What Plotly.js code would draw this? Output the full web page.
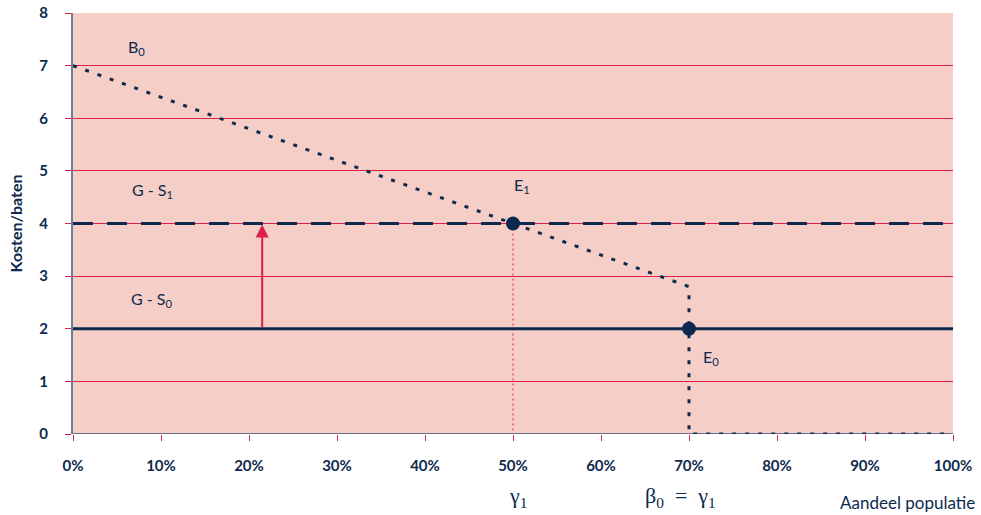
<!DOCTYPE html>
<html><head><meta charset="utf-8">
<script src="https://cdn.plot.ly/plotly-3.0.1.min.js"></script>
<style>body{margin:0;background:#fff}</style>
</head><body><div id="c" style="width:981px;height:515px"></div>
<script>
// Data
const benefitX = [0, 0.7, 0.7, 1.0];
const benefitY = [7, 2.8, 0, 0];
const gs1X = [0, 1.0];
const gs1Y = [4, 4];
const gs0X = [0, 1.0];
const gs0Y = [2, 2];
const equilibriaX = [0.5, 0.7];
const equilibriaY = [4, 2];
const gammaGuideX = [0.5, 0.5];
const gammaGuideY = [4, 0];
const arrowX = 0.215;
const arrowFrom = 2, arrowTo = 4;
const xTicks = [0,0.1,0.2,0.3,0.4,0.5,0.6,0.7,0.8,0.9,1.0];
const xTickText = ['0%','10%','20%','30%','40%','50%','60%','70%','80%','90%','100%'];
const yTicks = [0,1,2,3,4,5,6,7,8];

const navy = '#0d2a4e';
const red = '#dc1f4b';

const traces = [
  {x: gammaGuideX, y: gammaGuideY, mode:'lines', line:{color:red, width:1, dash:'2px,3px'}, hoverinfo:'skip'},
  {x: gs0X, y: gs0Y, mode:'lines', line:{color:navy, width:3}, hoverinfo:'skip'},
  {x: gs1X, y: gs1Y, mode:'lines', line:{color:navy, width:3, dash:'20px,14px'}, hoverinfo:'skip'},
  {x: benefitX, y: benefitY, mode:'lines', line:{color:navy, width:3, dash:'4px,9px'}, hoverinfo:'skip'},
  {x: equilibriaX, y: equilibriaY, mode:'markers', marker:{color:navy, size:14}, hoverinfo:'skip'}
];

const sans = 'Lato, "Open Sans", sans-serif';
const labFont = {family:sans, size:16, color:navy};
const serif = {family:'"Liberation Serif", "DejaVu Serif", serif', size:22, color:navy};

const layout = {
  width:981, height:515,
  margin:{l:73, r:28, t:13, b:81},
  paper_bgcolor:'#ffffff', plot_bgcolor:'#f5cec7',
  showlegend:false,
  xaxis:{range:[0,1], tickvals:xTicks, ticktext:xTickText, showgrid:false, zeroline:false,
    ticks:'outside', ticklen:6, tickcolor:red, tickwidth:1,
    showline:false, ticklabelstandoff:12,
    tickfont:{family:sans, size:15, color:navy, weight:'bold'},
    fixedrange:true},
  yaxis:{range:[0,8], tickvals:yTicks, showgrid:true, gridcolor:red, gridwidth:1, zeroline:false,
    ticks:'outside', ticklen:6, tickcolor:red, tickwidth:1,
    showline:true, linecolor:'#6f7d8e', linewidth:2, ticklabelstandoff:14,
    tickfont:{family:sans, size:15, color:navy, weight:'bold'},
    fixedrange:true},
  shapes:[
    {type:'line', xref:'x', yref:'y', x0:0, x1:1, y0:0, y1:0, line:{color:'#3a5075', width:1.5}, layer:'below'}
  ],
  annotations:[
    {x:arrowX, y:arrowTo, ax:arrowX, ay:arrowFrom, xref:'x', yref:'y', axref:'x', ayref:'y',
     showarrow:true, arrowhead:2, arrowsize:1.3, arrowwidth:2, arrowcolor:red, standoff:1, text:''},
    {x:0.072, y:7.35, xref:'x', yref:'y', text:'B<sub>0</sub>', showarrow:false, font:labFont},
    {x:0.09, y:4.62, xref:'x', yref:'y', text:'G - S<sub>1</sub>', showarrow:false, font:labFont},
    {x:0.09, y:2.55, xref:'x', yref:'y', text:'G - S<sub>0</sub>', showarrow:false, font:labFont},
    {x:0.51, y:4.72, xref:'x', yref:'y', text:'E<sub>1</sub>', showarrow:false, font:labFont},
    {x:0.725, y:1.45, xref:'x', yref:'y', text:'E<sub>0</sub>', showarrow:false, font:labFont},
    {x:(518-73)/880, y:(434-497)/421, xref:'paper', yref:'paper', yanchor:'middle', text:'γ<sub>1</sub>', showarrow:false, font:serif},
    {x:(643-73)/880, y:(434-497)/421, xref:'paper', yref:'paper', xanchor:'left', yanchor:'middle', text:'β<sub>0</sub>  =  γ<sub>1</sub>', showarrow:false, font:serif},
    {x:(977-73)/880, y:(434-502)/421, xref:'paper', yref:'paper', xanchor:'right', yanchor:'middle', text:'Aandeel populatie', showarrow:false, font:{family:sans, size:17, color:navy}},
    {x:(15-73)/880, y:0.5, xref:'paper', yref:'paper', xanchor:'center', yanchor:'middle', textangle:-90, text:'Kosten/baten', showarrow:false, font:{family:sans, size:16, color:navy, weight:'bold'}}
  ]
};

Plotly.newPlot('c', traces, layout, {staticPlot:true, displayModeBar:false});
</script></body></html>
